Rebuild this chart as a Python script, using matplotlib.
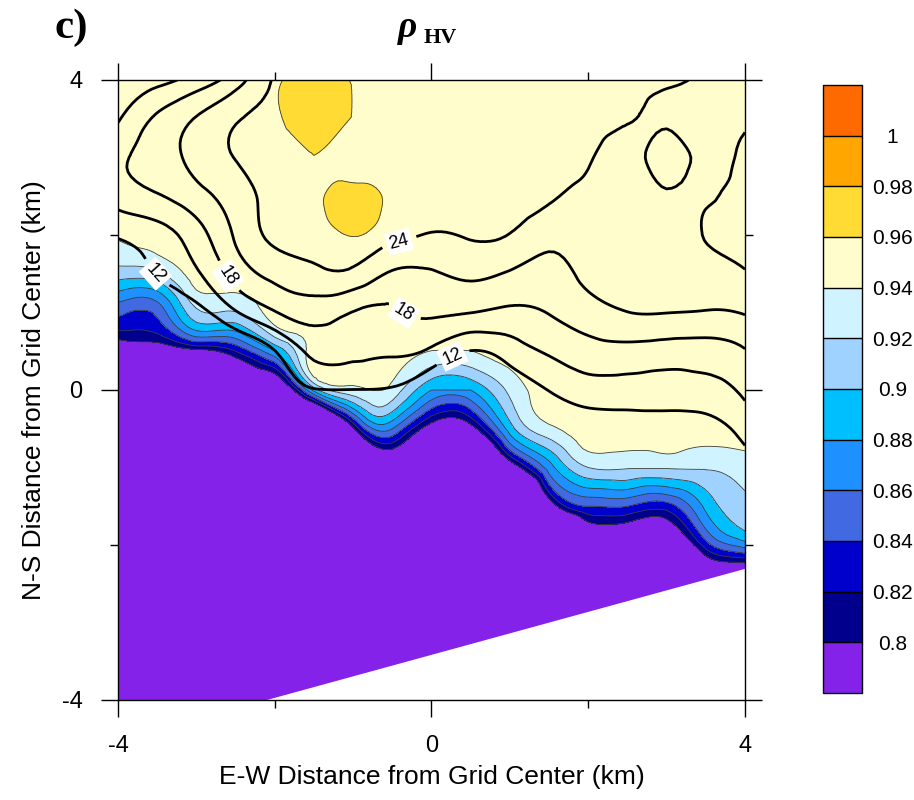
import numpy as np
import matplotlib
matplotlib.use('Agg')
import matplotlib.pyplot as plt
from matplotlib.tri import Triangulation, UniformTriRefiner, CubicTriInterpolator

plt.rcParams['font.family'] = ['Liberation Sans', 'DejaVu Sans']
plt.rcParams['axes.unicode_minus'] = False

# grid, km from grid center (0.5 km spacing)
x_km = np.arange(-4, 4.01, 0.5)
y_km = np.arange(-4, 4.01, 0.5)

# rho_hv, rows from y=4 (top) down to y=-4, columns x=-4..4
rhohv_rows = [
    [0.95, 0.95, 0.95, 0.95, 0.955, 0.975, 0.958, 0.95, 0.95, 0.95, 0.95, 0.95, 0.95, 0.95, 0.95, 0.95, 0.95],
    [0.95, 0.95, 0.95, 0.95, 0.955, 0.975, 0.958, 0.95, 0.95, 0.95, 0.95, 0.95, 0.95, 0.95, 0.95, 0.95, 0.95],
    [0.95, 0.95, 0.95, 0.95, 0.95, 0.959, 0.945, 0.95, 0.95, 0.95, 0.95, 0.95, 0.95, 0.95, 0.95, 0.95, 0.95],
    [0.95, 0.95, 0.95, 0.95, 0.95, 0.955, 0.97, 0.955, 0.95, 0.95, 0.95, 0.95, 0.95, 0.95, 0.95, 0.95, 0.95],
    [0.942, 0.95, 0.95, 0.95, 0.95, 0.95, 0.961, 0.95, 0.95, 0.95, 0.95, 0.95, 0.95, 0.95, 0.95, 0.95, 0.95],
    [0.91, 0.915, 0.948, 0.948, 0.95, 0.95, 0.95, 0.95, 0.95, 0.95, 0.95, 0.95, 0.95, 0.95, 0.95, 0.95, 0.95],
    [0.845, 0.845, 0.915, 0.919, 0.95, 0.95, 0.95, 0.95, 0.95, 0.95, 0.95, 0.95, 0.95, 0.95, 0.95, 0.95, 0.95],
    [0.76, 0.77, 0.79, 0.82, 0.879, 0.95, 0.95, 0.95, 0.9395, 0.9395, 0.95, 0.95, 0.95, 0.95, 0.95, 0.95, 0.95],
    [0.6, 0.6, 0.6, 0.695, 0.733, 0.8875, 0.933, 0.933, 0.88, 0.88, 0.925, 0.95, 0.95, 0.95, 0.95, 0.95, 0.95],
    [0.6, 0.6, 0.6, 0.6, 0.6, 0.63, 0.794, 0.86, 0.78, 0.785, 0.89, 0.935, 0.95, 0.95, 0.95, 0.95, 0.95],
    [0.6, 0.6, 0.6, 0.6, 0.6, 0.6, 0.65, 0.73, 0.65, 0.65, 0.768, 0.87, 0.92, 0.922, 0.922, 0.922, 0.93],
    [0.6, 0.6, 0.6, 0.6, 0.6, 0.6, 0.6, 0.6, 0.6, 0.6, 0.6, 0.77, 0.84, 0.84, 0.83, 0.885, 0.915],
    [0.6, 0.6, 0.6, 0.6, 0.6, 0.6, 0.6, 0.6, 0.6, 0.6, 0.6, 0.6, 0.722, 0.729, 0.73, 0.83, 0.87],
    [0.6, 0.6, 0.6, 0.6, 0.6, 0.6, 0.6, 0.6, 0.6, 0.6, 0.6, 0.6, 0.6, 0.6, 0.6, 0.7, 0.7],
    [0.6, 0.6, 0.6, 0.6, 0.6, 0.6, 0.6, 0.6, 0.6, 0.6, 0.6, 0.6, 0.6, 0.6, 0.6, 0.6, 0.6],
    [0.6, 0.6, 0.6, 0.6, 0.6, 0.6, 0.6, 0.6, 0.6, 0.6, 0.6, 0.6, 0.6, 0.6, 0.6, 0.6, 0.6],
    [0.6, 0.6, 0.6, 0.6, 0.6, 0.6, 0.6, 0.6, 0.6, 0.6, 0.6, 0.6, 0.6, 0.6, 0.6, 0.6, 0.6],
]

# reflectivity (dBZ) for the black contours, same layout
dbz_rows = [
    [12.5, 14.0, 16.2, 19.6, 24.3, 25.0, 25.5, 25.8, 26.0, 26.0, 26.0, 25.8, 25.5, 25.0, 24.6, 23.5, 23.3],
    [14.7, 18.5, 21.2, 23.7, 25.0, 25.8, 26.0, 26.2, 26.3, 26.3, 26.2, 26.0, 25.2, 24.15, 23.6, 23.3, 23.4],
    [17.4, 19.6, 21.9, 24.1, 25.0, 25.6, 25.8, 26.0, 26.0, 26.0, 25.8, 25.2, 24.3, 23.1, 24.8, 23.3, 25.0],
    [16.2, 17.7, 19.9, 22.6, 24.8, 25.4, 25.6, 25.6, 25.5, 25.3, 25.2, 24.3, 23.3, 23.0, 23.6, 23.8, 25.0],
    [12.4, 13.8, 16.7, 21.4, 24.6, 25.1, 25.0, 24.7, 23.8, 24.3, 23.9, 22.1, 22.3, 22.6, 22.8, 24.1, 25.0],
    [8.5, 12.1, 14.6, 19.1, 21.9, 23.2, 23.3, 20.6, 20.7, 21.5, 20.7, 19.9, 21.7, 22.2, 22.3, 23.0, 23.8],
    [6.0, 8.5, 10.8, 14.7, 17.8, 19.3, 17.9, 17.6, 18.4, 18.05, 17.4, 18.1, 19.7, 20.95, 21.05, 20.8, 21.2],
    [4.0, 5.0, 7.0, 9.0, 11.9, 15.7, 15.9, 15.5, 14.4, 11.9, 13.4, 15.4, 16.8, 17.0, 16.6, 16.6, 17.8],
    [2.0, 3.0, 4.5, 6.0, 8.5, 11.8, 11.95, 11.7, 9.0, 7.5, 9.5, 12.1, 13.7, 13.8, 13.7, 14.0, 15.5],
    [1.0, 1.0, 2.0, 3.0, 4.0, 6.0, 9.0, 8.0, 5.0, 4.0, 5.0, 8.0, 9.5, 10.0, 10.0, 10.5, 13.3],
    [1.0, 1.0, 1.0, 2.0, 2.0, 3.0, 4.0, 4.0, 3.0, 2.0, 3.0, 4.0, 5.0, 6.0, 6.0, 7.0, 10.0],
    [1.0, 1.0, 1.0, 1.0, 1.0, 1.0, 2.0, 2.0, 2.0, 2.0, 2.0, 2.0, 3.0, 3.0, 4.0, 4.0, 6.0],
    [1.0, 1.0, 1.0, 1.0, 1.0, 1.0, 1.0, 1.0, 1.0, 1.0, 1.0, 1.0, 2.0, 2.0, 2.0, 2.0, 3.0],
    [1.0, 1.0, 1.0, 1.0, 1.0, 1.0, 1.0, 1.0, 1.0, 1.0, 1.0, 1.0, 1.0, 1.0, 1.0, 1.0, 2.0],
    [1.0, 1.0, 1.0, 1.0, 1.0, 1.0, 1.0, 1.0, 1.0, 1.0, 1.0, 1.0, 1.0, 1.0, 1.0, 1.0, 1.0],
    [1.0, 1.0, 1.0, 1.0, 1.0, 1.0, 1.0, 1.0, 1.0, 1.0, 1.0, 1.0, 1.0, 1.0, 1.0, 1.0, 1.0],
    [1.0, 1.0, 1.0, 1.0, 1.0, 1.0, 1.0, 1.0, 1.0, 1.0, 1.0, 1.0, 1.0, 1.0, 1.0, 1.0, 1.0],
]

# no radar data below this edge (lower right corner)
nodata_x = [-2.13, 4.0]
nodata_y = [-4.0, -2.3]

rho_levels = [0.0, 0.80, 0.82, 0.84, 0.86, 0.88, 0.90, 0.92, 0.94, 0.96, 0.98, 1.00, 1.5]
rho_colors = ['#8422ea', '#00008c', '#0000cd', '#4169e1', '#1e90ff', '#00bfff',
              '#a0d2ff', '#d0f4ff', '#fffdcc', '#ffdb33', '#ffa600', '#ff6a00']
cbar_labels = ['0.8', '0.82', '0.84', '0.86', '0.88', '0.9', '0.92', '0.94', '0.96', '0.98', '1']
dbz_labeled = [12, 18, 24]
dbz_plain = [15, 21]

rho = np.array(rhohv_rows)[::-1]
dbz = np.array(dbz_rows)[::-1]

# smooth contouring of the coarse grid with matplotlib's triangulation refiner
gx, gy = np.meshgrid(x_km, y_km)
tri = Triangulation(gx.ravel(), gy.ravel())
refiner = UniformTriRefiner(tri)
tri_z, dbz_fine = refiner.refine_field(dbz.ravel(), subdiv=3)

# rho: cubic refinement kept inside each coarse triangle's range (no overshoot)
tri_r, tri_idx = refiner.refine_triangulation(subdiv=3, return_tri_index=True)
rho_fine = np.ma.getdata(CubicTriInterpolator(tri, rho.ravel())(tri_r.x, tri_r.y))
corner = rho.ravel()[tri.triangles[tri_idx]]
rho_fine = np.clip(rho_fine, corner.min(axis=1), corner.max(axis=1))

fig = plt.figure(figsize=(9.14, 8.0), dpi=100)
ax = fig.add_axes([0.1291, 0.125, 0.686, 0.775])

cf = ax.tricontourf(tri_r, rho_fine, levels=rho_levels, colors=rho_colors, zorder=1)
ax.tricontour(tri_r, rho_fine, levels=rho_levels[1:-1], colors='#3a3a3a', linewidths=0.6, zorder=1.5)
ax.fill_between(nodata_x, -4, nodata_y, color='white', lw=0, zorder=2)

ax.tricontour(tri_z, dbz_fine, levels=dbz_plain, colors='black', linewidths=2.0, zorder=3)
cs = ax.tricontour(tri_z, dbz_fine, levels=dbz_labeled, colors='black', linewidths=2.0, zorder=3)
# where the line labels sit
label_spots = [(-3.52, 1.5), (0.25, 0.47), (-2.62, 1.45), (-0.38, 0.95), (-0.4, 1.85)]
lbls = ax.clabel(cs, fmt='%d', fontsize=13, inline=True, inline_spacing=8, manual=label_spots)
for t in lbls:
    t.set_bbox(dict(boxstyle='square,pad=0.15', fc='white', ec='none'))
    t.set_zorder(4)

ax.set_xlim(-4, 4)
ax.set_ylim(-4, 4)
ax.set_xticks([-4, 0, 4])
ax.set_xticks([-2, 2], minor=True)
ax.set_yticks([-4, 0, 4])
ax.set_yticks([-2, 2], minor=True)
ax.tick_params(which='both', direction='out', top=True, right=True, width=1.0, labelsize=17)
ax.tick_params(which='major', length=12.5)
ax.tick_params(which='minor', length=6)
ax.tick_params(axis='y', which='major', pad=13)
ax.tick_params(axis='x', which='major', pad=13)
for s in ax.spines.values():
    s.set_linewidth(1.0)

ax.set_xlabel('E-W Distance from Grid Center (km)', fontsize=19)
ax.xaxis.set_label_coords(0.5, -0.105)
ax.set_ylabel('N-S Distance from Grid Center (km)', fontsize=19)
ax.yaxis.set_label_coords(-0.115, 0.5)

# colour bar with equal boxes
cax = fig.add_axes([0.9004, 0.1338, 0.0427, 0.76])
cb = fig.colorbar(cf, cax=cax, spacing='uniform', drawedges=True, ticks=rho_levels[1:-1])
cb.set_ticklabels(cbar_labels)
cb.outline.set_linewidth(1.0)
cb.dividers.set_linewidth(1.0)
cax.tick_params(length=0, labelsize=15, pad=22)
for t in cax.get_yticklabels():
    t.set_horizontalalignment('center')

fig.text(54 / 914, 1 - 38 / 800, 'c)', fontsize=31, fontweight='bold',
         family='Liberation Serif', va='baseline')
fig.text(398 / 914, 1 - 37 / 800, 'ρ', fontsize=27, fontweight='bold', fontstyle='italic',
         family='Liberation Serif', va='baseline')
fig.text(424 / 914, 1 - 43 / 800, 'HV', fontsize=16, fontweight='bold',
         family='Liberation Serif', va='baseline')

fig.savefig('out.png', dpi=100)
